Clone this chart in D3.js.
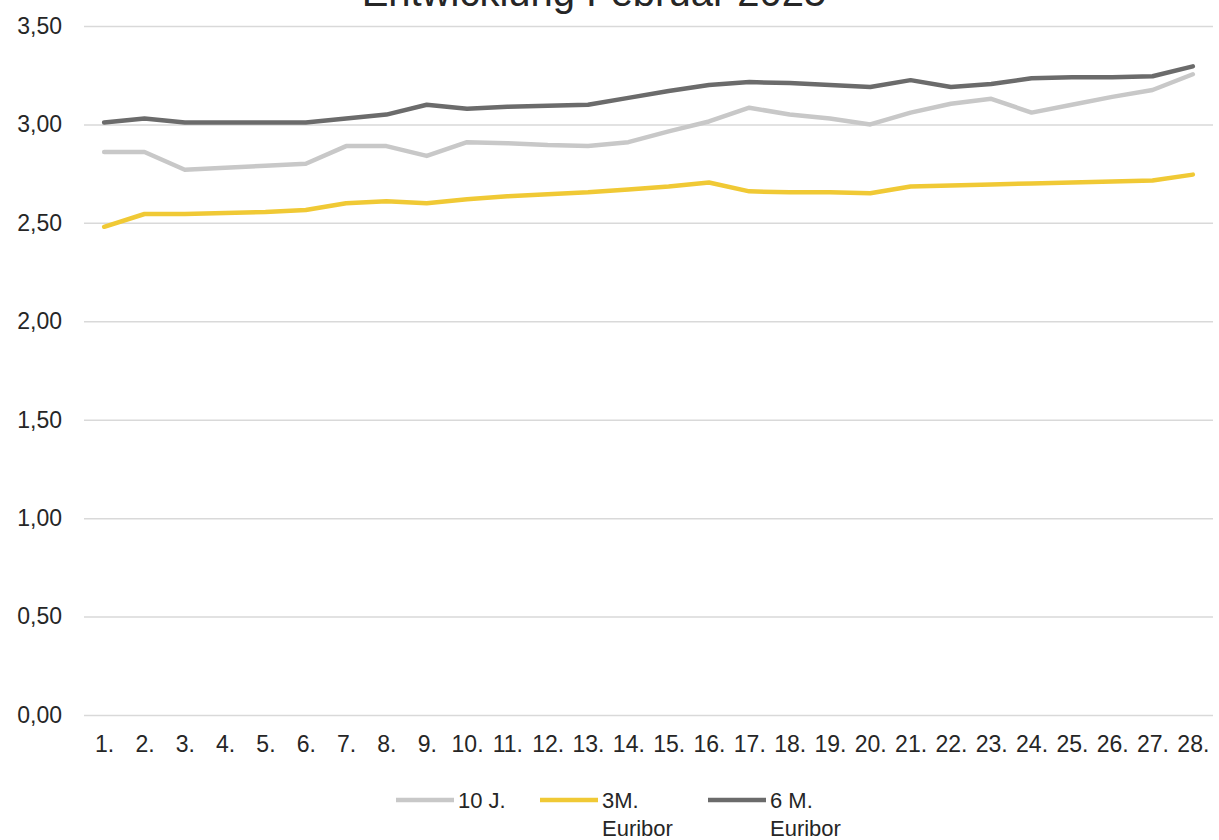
<!DOCTYPE html>
<html>
<head>
<meta charset="utf-8">
<script src="https://cdn.jsdelivr.net/npm/d3@7"></script>
<style>
  html, body { margin: 0; padding: 0; background: #ffffff; }
  svg { display: block; }
  text { font-family: "Liberation Sans", Arial, sans-serif; fill: #262626; }
</style>
</head>
<body>
<svg id="chart" width="1219" height="840"></svg>
<script>
// Tage im Februar
const days = ["1.","2.","3.","4.","5.","6.","7.","8.","9.","10.","11.","12.","13.","14.",
              "15.","16.","17.","18.","19.","20.","21.","22.","23.","24.","25.","26.","27.","28."];

// Zinssätze in %
const tenYear = [2.86,2.86,2.77,2.78,2.79,2.80,2.89,2.89,2.84,2.91,2.905,2.895,2.89,2.91,
                 2.965,3.015,3.085,3.05,3.03,3.00,3.06,3.105,3.13,3.06,3.10,3.14,3.175,3.255];
const euribor3M = [2.48,2.545,2.545,2.55,2.555,2.565,2.60,2.61,2.60,2.62,2.635,2.645,2.655,2.67,
                   2.685,2.705,2.66,2.655,2.655,2.65,2.685,2.69,2.695,2.70,2.705,2.71,2.715,2.745];
const euribor6M = [3.01,3.03,3.01,3.01,3.01,3.01,3.03,3.05,3.10,3.08,3.09,3.095,3.10,3.135,
                   3.17,3.20,3.215,3.21,3.20,3.19,3.225,3.19,3.205,3.235,3.24,3.24,3.245,3.295];

const yTicks = [0, 0.5, 1, 1.5, 2, 2.5, 3, 3.5];

const titleText = "Entwicklung Februar 2025";

const series = [
  { name: ["10 J."], values: tenYear, color: "#c8c8c8" },
  { name: ["3M.", "Euribor"], values: euribor3M, color: "#f0c935" },
  { name: ["6 M.", "Euribor"], values: euribor6M, color: "#6b6b6b" }
];

const svg = d3.select("#chart");

const x = d3.scalePoint().domain(days).range([84, 1213]).padding(0.5);
const y = d3.scaleLinear().domain([0, 3.5]).range([715, 26]);

const fmt = v => d3.format(".2f")(v).replace(".", ",");

// Titel (oben angeschnitten)
svg.append("text")
  .attr("x", 594).attr("y", 6)
  .attr("text-anchor", "middle")
  .style("font-size", "40px")
  .text(titleText);

// Gitternetz und y-Achse
const yAxis = d3.axisLeft(y).tickValues(yTicks).tickFormat(fmt)
  .tickSize(-(1213 - 84)).tickPadding(22);
const gy = svg.append("g").attr("transform", "translate(84,0)").call(yAxis);
gy.select(".domain").remove();
gy.selectAll(".tick line").attr("stroke", "#d9d9d9").attr("stroke-width", 1.5);
gy.selectAll(".tick text").attr("x", -22).attr("text-anchor", "end")
  .style("font-size", "23px").attr("fill", "#262626");

// x-Achse
const xAxis = d3.axisBottom(x).tickSize(0).tickPadding(21);
const gx = svg.append("g").attr("transform", "translate(0,715)").call(xAxis);
gx.select(".domain").remove();
gx.selectAll(".tick text").style("font-size", "23px").attr("fill", "#262626");

// Linien
const line = d3.line()
  .x((d, i) => x(days[i]))
  .y(d => y(d));

svg.append("g").selectAll("path")
  .data(series)
  .join("path")
  .attr("d", d => line(d.values))
  .attr("fill", "none")
  .attr("stroke", d => d.color)
  .attr("stroke-width", 4.5)
  .attr("stroke-linejoin", "round")
  .attr("stroke-linecap", "round");

// Legende
const legendX = [396, 540, 708];
const leg = svg.append("g").selectAll("g")
  .data(series)
  .join("g")
  .attr("transform", (d, i) => `translate(${legendX[i]},800)`);
leg.append("line")
  .attr("x1", 0).attr("x2", 58)
  .attr("y1", 0).attr("y2", 0)
  .attr("stroke", d => d.color)
  .attr("stroke-width", 4.5);
leg.append("text")
  .attr("x", 62).attr("y", 8)
  .style("font-size", "22px")
  .selectAll("tspan")
  .data(d => d.name)
  .join("tspan")
  .attr("x", 62)
  .attr("dy", (d, i) => i === 0 ? 0 : 28)
  .text(d => d);
</script>
</body>
</html>
